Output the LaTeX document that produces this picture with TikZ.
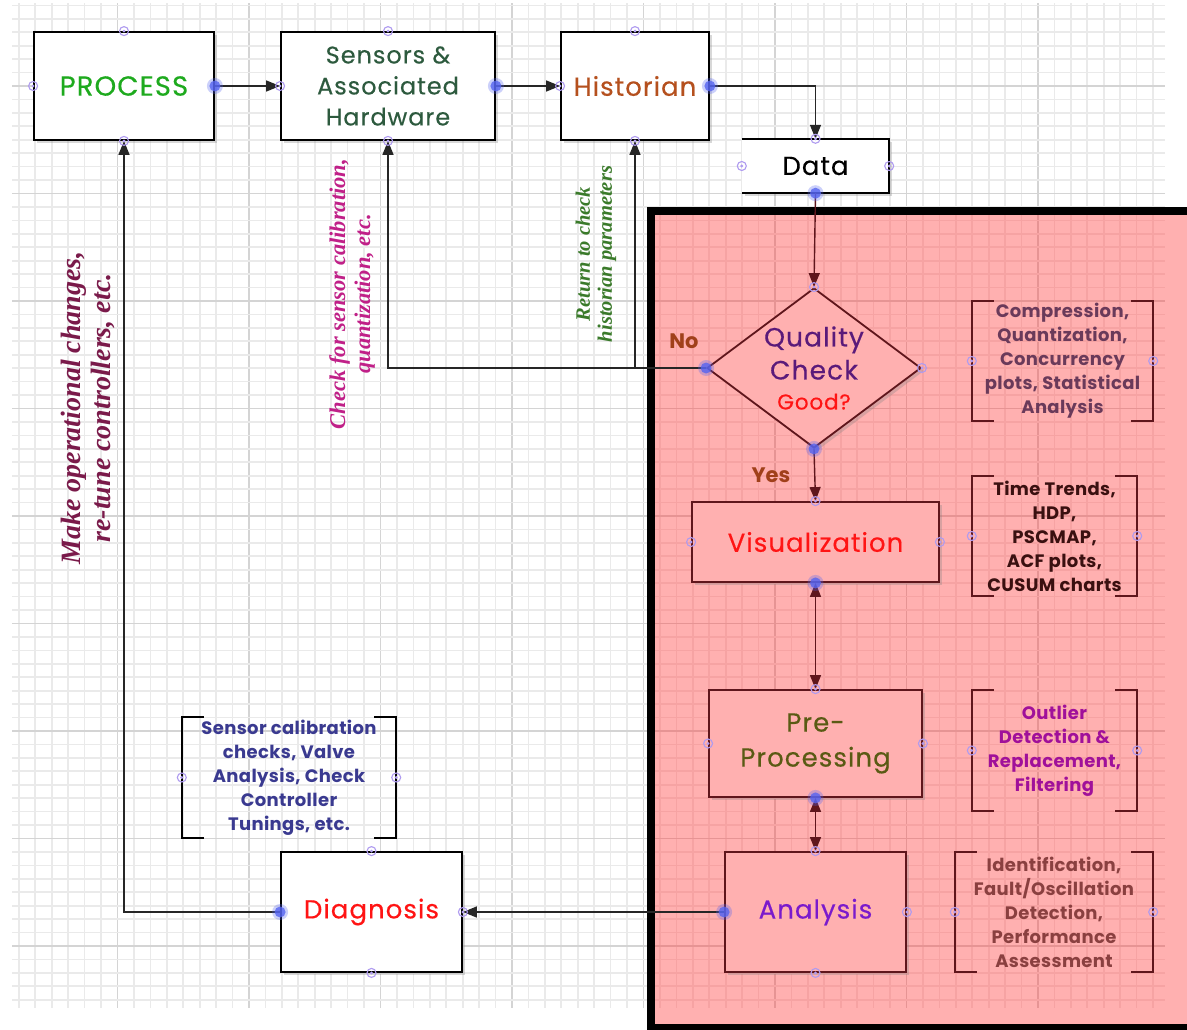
\documentclass[tikz,border=0pt]{standalone}
\usepackage{fontspec}
\setmainfont{Poppins}
\newfontfamily\lblfont[FakeBold=0.35,LetterSpace=4]{Poppins}
\newfontfamily\annfont[LetterSpace=2]{Poppins}
\newfontfamily\serifit{Liberation Serif}
\usetikzlibrary{arrows.meta,shapes.geometric,shadows}

\definecolor{gridminor}{RGB}{234,234,234}
\definecolor{gridmajor}{RGB}{212,212,212}
\definecolor{pinkminor}{RGB}{246,163,163}
\definecolor{pinkmajor}{RGB}{230,148,148}
\definecolor{pinkbox}{RGB}{255,176,176}
\definecolor{darkmaroon}{RGB}{95,22,28}
\definecolor{cprocess}{RGB}{30,170,30}
\definecolor{csensors}{RGB}{45,90,62}
\definecolor{chist}{RGB}{181,80,30}
\definecolor{cquality}{RGB}{90,26,122}
\definecolor{cred}{RGB}{255,20,20}
\definecolor{cyesno}{RGB}{160,64,26}
\definecolor{cpre}{RGB}{90,90,20}
\definecolor{canalysis}{RGB}{122,26,204}
\definecolor{ccomp}{RGB}{106,58,90}
\definecolor{ctt}{RGB}{58,16,16}
\definecolor{coutl}{RGB}{160,16,154}
\definecolor{cident}{RGB}{138,64,64}
\definecolor{csens}{RGB}{58,58,144}
\definecolor{cmake}{RGB}{122,26,74}
\definecolor{ccheck}{RGB}{192,32,136}
\definecolor{creturn}{RGB}{58,122,42}
\definecolor{ringc}{RGB}{175,155,240}
\definecolor{dotc}{RGB}{85,100,240}

\newcommand\drawbrk[2]{%
  \draw[brk,draw=#2] ([xshift=22bp]#1.north west) -- (#1.north west) -- (#1.south west) -- ([xshift=22bp]#1.south west);
  \draw[brk,draw=#2] ([xshift=-22bp]#1.north east) -- (#1.north east) -- (#1.south east) -- ([xshift=-22bp]#1.south east);}

\newcommand\drawgrid[2]{%
  \foreach \k in {-6,...,63} {
    \pgfmathtruncatemacro\m{mod(\k+80,8)}
    \ifnum\m=0
      \draw[#2,line width=1.9bp] ({117.5+\k*16.4375},3) -- ({117.5+\k*16.4375},1008);
    \else
      \draw[#1,line width=1.7bp] ({117.5+\k*16.4375},3) -- ({117.5+\k*16.4375},1008);
    \fi
  }
  \foreach \k in {-6,...,68} {
    \pgfmathtruncatemacro\m{mod(\k+80,8)}
    \ifnum\m=0
      \draw[#2,line width=1.9bp] (12,{86+\k*13.4375}) -- (1165,{86+\k*13.4375});
    \else
      \draw[#1,line width=1.7bp] (12,{86+\k*13.4375}) -- (1165,{86+\k*13.4375});
    \fi
  }}

\begin{document}
\begin{tikzpicture}[x=1bp,y=-1bp,
  shad/.style={drop shadow={shadow xshift=3bp,shadow yshift=-3bp,opacity=.3}},
  box/.style={draw=black,line width=1.8bp,fill=white,inner sep=0pt,align=center,shad},
  pbox/.style={draw=darkmaroon,line width=1.8bp,fill=pinkbox,inner sep=0pt,align=center,shad},
  lbl/.style={font=\lblfont\fontsize{26bp}{33bp}\selectfont},
  conn/.style={draw=black!85,line width=1.4bp,-{Triangle[length=14bp,width=11bp]}},
  pconn/.style={draw=darkmaroon,line width=1.4bp,-{Triangle[length=14bp,width=11bp]}},
  dconn/.style={draw=darkmaroon,line width=1.4bp,{Triangle[length=14bp,width=11bp]}-{Triangle[length=14bp,width=11bp]}},
  ann/.style={inner sep=0pt,align=center,font=\annfont\bfseries\fontsize{18bp}{24bp}\selectfont},
  brk/.style={line width=1.6bp},
  yn/.style={inner sep=0pt,font=\bfseries\fontsize{21bp}{24bp}\selectfont,text=cyesno},
  rot/.style={inner sep=0pt,align=center,rotate=90},
  ring/.style={draw=ringc,line width=1.1bp},
]
\useasboundingbox (0,0) rectangle (1187,1030);
\fill[white] (0,0) rectangle (1187,1030);

% grid
\drawgrid{gridminor}{gridmajor}

% pink region
\fill[pinkbox] (651,211) rectangle (1200,1040);
\begin{scope}
  \clip (651,211) rectangle (1200,1040);
  \drawgrid{pinkminor}{pinkmajor}
\end{scope}
\draw[line width=8bp] (1200,211) -- (651,211) -- (651,1028) -- (1200,1028);

% nodes
\node[box,minimum width=180bp,minimum height=108bp,text=cprocess,font=\lblfont\fontsize{27.5bp}{33bp}\selectfont] (process) at (124,86) {PROCESS};
\node[box,minimum width=214bp,minimum height=108bp,text=csensors,font=\lblfont\fontsize{24bp}{31bp}\selectfont] (sensors) at (388,86) {Sensors \&\\Associated\\Hardware};
\node[box,lbl,minimum width=148bp,minimum height=108bp,text=chist] (historian) at (635,86) {Historian};
\node[fill=white,shad,inner sep=0pt,minimum width=147bp,minimum height=54bp,font=\lblfont\fontsize{26bp}{30bp}\selectfont] (data) at (815.5,166) {Data};
\draw[line width=1.8bp] (data.north west) -- (data.north east) -- (data.south east) -- (data.south west);

\node[pbox,diamond,minimum width=214bp,minimum height=160bp] (quality) at (814,368) {};
\node[inner sep=0pt,align=center,text=cquality,font=\lblfont\fontsize{26.5bp}{33bp}\selectfont] (qtext) at (quality.center)
  {Quality\\Check\\[-3bp]{\fontsize{21.5bp}{24bp}\selectfont\color{cred}Good?}};
\node[pbox,lbl,minimum width=247bp,minimum height=80bp,text=cred] (vis) at (815.5,542) {Visualization};
\node[pbox,minimum width=213bp,minimum height=107bp,text=cpre,font=\lblfont\fontsize{26bp}{35bp}\selectfont] (pre) at (815.5,743.5) {\raisebox{-4bp}{Pre-}\\\raisebox{-4bp}{Processing}};
\node[pbox,lbl,minimum width=181bp,minimum height=120bp,text=canalysis] (analysis) at (815.5,912) {Analysis};
\node[box,lbl,minimum width=181bp,minimum height=120bp,text=cred] (diagnosis) at (371.5,912) {Diagnosis};

% annotations in brackets
\node[ann,minimum width=181bp,minimum height=120bp,text=ccomp] (comp) at (1062.5,361)
  {Compression,\\Quantization,\\Concurrency\\plots, Statistical\\Analysis};
\node[ann,minimum width=165bp,minimum height=120bp,text=ctt] (tt) at (1054.5,536)
  {Time Trends,\\HDP,\\PSCMAP,\\ACF plots,\\CUSUM charts};
\node[ann,minimum width=165bp,minimum height=121bp,text=coutl] (outl) at (1054.5,750.5)
  {Outlier\\Detection \&\\Replacement,\\Filtering};
\node[ann,minimum width=198bp,minimum height=120bp,text=cident] (ident) at (1054,912)
  {Identification,\\Fault/Oscillation\\Detection,\\Performance\\Assessment};
\node[ann,minimum width=214bp,minimum height=121bp,text=csens] (sens) at (289,777.5)
  {Sensor calibration\\checks, Valve\\Analysis, Check\\Controller\\Tunings, etc.};
\drawbrk{comp}{darkmaroon}
\drawbrk{tt}{darkmaroon}
\drawbrk{outl}{darkmaroon}
\drawbrk{ident}{darkmaroon}
\drawbrk{sens}{black}

% yes / no
\node[yn] (no) at (684,341) {No};
\node[yn] (yes) at (771,475) {Yes};

% rotated labels
\node[rot,text=cmake,font=\serifit\bfseries\itshape\fontsize{28bp}{30bp}\selectfont] (make) at (88,408)
  {Make operational changes,\\re-tune controllers, etc.};
\node[rot,text=ccheck,font=\serifit\bfseries\itshape\fontsize{22.5bp}{25bp}\selectfont] (checkfor) at (352,294)
  {Check for sensor calibration,\\quantization, etc.};
\node[rot,text=creturn,font=\serifit\bfseries\itshape\fontsize{20.5bp}{22bp}\selectfont] (ret) at (596,254)
  {Return to check\\historian parameters};

% connectors
\draw[conn] (process.east) -- (sensors.west);
\draw[conn] (sensors.east) -- (historian.west);
\draw[conn] (historian.east) -| (data.north);
\draw[pconn] (data.south) -- (quality.north);
\draw[conn] (quality.west) -| (sensors.south);
\draw[conn] (quality.west -| historian.south) -- (historian.south);
\draw[pconn] (quality.south) -- (vis.north);
\draw[dconn] (vis.south) -- (pre.north);
\draw[dconn] (pre.south) -- (analysis.north);
\draw[conn] (analysis.west) -- (diagnosis.east);
\draw[conn] (diagnosis.west) -| (process.south);

% connection point markers
\foreach \p in {process.north,process.west,process.south,sensors.north,sensors.west,sensors.south,
  historian.north,historian.west,historian.south,data.north,data.west,data.east,quality.north,quality.east,
  vis.north,vis.west,vis.east,pre.north,pre.west,pre.east,analysis.north,analysis.east,analysis.south,
  diagnosis.north,diagnosis.east,diagnosis.south,comp.west,comp.east,tt.west,tt.east,outl.west,outl.east,
  ident.west,ident.east,sens.west,sens.east} {
  \draw[ring] (\p) circle[radius=4.5bp];
  \fill[ringc] (\p) circle[radius=1.6bp];
}
\foreach \p in {process.east,sensors.east,historian.east,data.south,quality.west,quality.south,
  vis.south,pre.south,analysis.west,diagnosis.west} {
  \fill[dotc,opacity=.3] (\p) circle[radius=8bp];
  \fill[dotc,opacity=.8] (\p) circle[radius=5.5bp];
}
\end{tikzpicture}
\end{document}
